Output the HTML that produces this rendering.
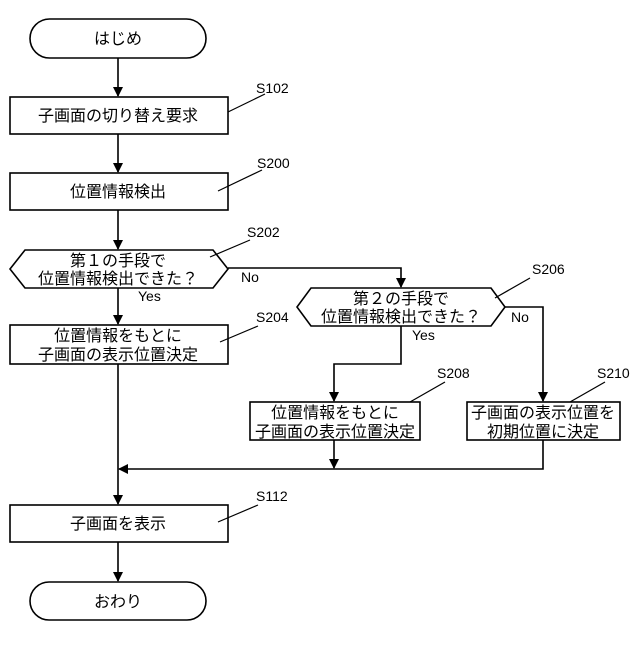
<!DOCTYPE html>
<html><head><meta charset="utf-8"><style>
body{margin:0;background:#fff}
svg text{font-family:"Liberation Sans","Noto Sans CJK JP",sans-serif;fill:#000}
.t{font-size:16px;text-anchor:middle}
.l{font-size:14px}
</style></head><body>
<svg width="640" height="640" viewBox="0 0 640 640" xmlns="http://www.w3.org/2000/svg">
<defs><marker id="a" markerWidth="10" markerHeight="10" refX="9" refY="5" orient="auto" markerUnits="userSpaceOnUse"><path d="M0,0 L10,5 L0,10 z" fill="#000"/></marker></defs>
<g fill="none" stroke="#000" stroke-width="1.6">
<rect x="30" y="19" width="176" height="39" rx="19.5"/>
<rect x="10" y="97" width="218" height="37"/>
<rect x="10" y="173" width="218" height="37"/>
<path d="M25,250 L213,250 L228,269 L213,288 L25,288 L10,269 Z"/>
<rect x="10" y="325" width="218" height="39"/>
<path d="M311,288 L491,288 L505,307 L491,326 L311,326 L297,307 Z"/>
<rect x="250" y="402" width="170" height="38"/>
<rect x="467" y="402" width="153" height="38"/>
<rect x="10" y="505" width="218" height="37"/>
<rect x="30" y="582" width="176" height="38" rx="19"/>
<path d="M118,58 V96" marker-end="url(#a)"/>
<path d="M118,134 V172" marker-end="url(#a)"/>
<path d="M118,210 V249" marker-end="url(#a)"/>
<path d="M118,288 V324" marker-end="url(#a)"/>
<path d="M118,364 V504" marker-end="url(#a)"/>
<path d="M118,542 V581" marker-end="url(#a)"/>
<path d="M228,268 H401 V287" marker-end="url(#a)"/>
<path d="M401,326 V364 H334 V401" marker-end="url(#a)"/>
<path d="M505,307 H543 V401" marker-end="url(#a)"/>
<path d="M334,440 V468" marker-end="url(#a)"/>
<path d="M543,440 V469 H119" marker-end="url(#a)"/>
<g stroke-width="1.2">
<path d="M228,112 L265,94"/>
<path d="M218,191 L262,170"/>
<path d="M210,257 L250,240"/>
<path d="M220,342 L258,326"/>
<path d="M495,298 L530,278"/>
<path d="M410,402 L445,382"/>
<path d="M570,402 L605,382"/>
<path d="M218,522 L258,505"/>
</g>
</g>
<text class="t" x="118" y="44">はじめ</text>
<text class="t" x="118" y="121">子画面の切り替え要求</text>
<text class="t" x="118" y="197">位置情報検出</text>
<text class="t" x="118" y="266">第１の手段で</text>
<text class="t" x="118" y="284">位置情報検出できた？</text>
<text class="t" x="118" y="341">位置情報をもとに</text>
<text class="t" x="118" y="360">子画面の表示位置決定</text>
<text class="t" x="401" y="304">第２の手段で</text>
<text class="t" x="401" y="322">位置情報検出できた？</text>
<text class="t" x="335" y="418">位置情報をもとに</text>
<text class="t" x="335" y="437">子画面の表示位置決定</text>
<text class="t" x="543" y="418">子画面の表示位置を</text>
<text class="t" x="543" y="437">初期位置に決定</text>
<text class="t" x="118" y="529">子画面を表示</text>
<text class="t" x="118" y="607">おわり</text>
<text class="l" x="241" y="282">No</text>
<text class="l" x="138" y="301">Yes</text>
<text class="l" x="511" y="322">No</text>
<text class="l" x="412" y="340">Yes</text>
<text class="l" x="256" y="93">S102</text>
<text class="l" x="257" y="168">S200</text>
<text class="l" x="247" y="237">S202</text>
<text class="l" x="256" y="322">S204</text>
<text class="l" x="532" y="274">S206</text>
<text class="l" x="437" y="378">S208</text>
<text class="l" x="597" y="378">S210</text>
<text class="l" x="256" y="501">S112</text>
</svg>
</body></html>
